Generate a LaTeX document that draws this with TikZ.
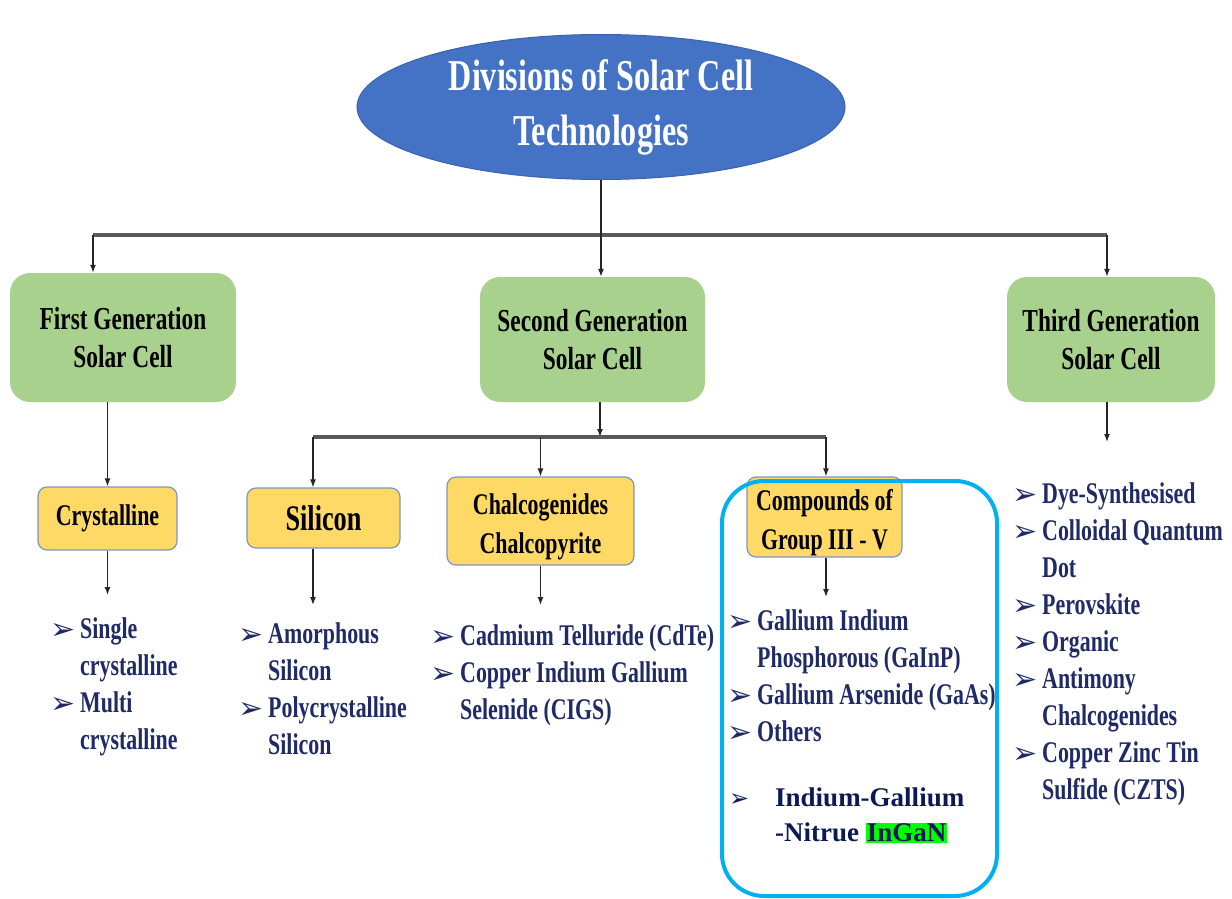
\documentclass[tikz,border=0pt]{standalone}
\usepackage{fontspec}
\setmainfont{Liberation Serif}
\newfontfamily\condfont[FakeStretch=0.73]{Liberation Serif}
\newfontfamily\dingfont{DejaVu Sans}
\usepackage{xcolor}
\usepackage{tikz}
\usetikzlibrary{shapes.geometric, arrows.meta}

\definecolor{titleblue}{HTML}{4472C4}
\definecolor{titleedge}{HTML}{3A62AE}
\definecolor{genfill}{HTML}{A9D18E}
\definecolor{subfill}{HTML}{FFD966}
\definecolor{subedge}{HTML}{7F96C0}
\definecolor{listblue}{HTML}{1F2A66}
\definecolor{ingannavy}{HTML}{0B1A57}
\definecolor{frameblue}{HTML}{00B0F0}
\definecolor{hlgreen}{HTML}{00FF00}

\newcommand{\bul}{\makebox[30pt][l]{\dingfont\fontsize{30}{30}\selectfont\raisebox{-1pt}{➢}}}
\newcommand{\cont}{\makebox[30pt]{}}
\newcommand{\low}[1]{\raisebox{-6pt}[\height][\depth]{#1}}

\begin{document}
\begin{tikzpicture}[
    x=1pt, y=-1pt,
    title/.style={ellipse, draw=titleedge, line width=1pt, fill=titleblue, text=white, minimum width=488pt, minimum height=145pt, align=center, inner sep=0pt, font=\condfont\bfseries\fontsize{44}{55}\selectfont},
    gen/.style={rectangle, fill=genfill, rounded corners=20pt, minimum height=125pt, align=center, inner sep=0pt, font=\condfont\bfseries\fontsize{32}{38}\selectfont},
    sub/.style={rectangle, draw=subedge, line width=1.2pt, fill=subfill, rounded corners=9pt, align=center, inner sep=0pt, font=\condfont\bfseries\fontsize{30}{39}\selectfont},
    items/.style={anchor=north west, align=left, inner sep=0pt, text=listblue, font=\condfont\bfseries\fontsize{30}{37}\selectfont},
    arrow/.style={-{Latex[length=8pt,width=6pt]}, line width=1.3pt, draw=black!85},
    bus/.style={line width=3.5pt, draw=black!65},
    frame/.style={rectangle, draw=frameblue, line width=4pt, rounded corners=42pt, inner sep=0pt}
]

\fill[white] (0,0) rectangle (1232,899);
\useasboundingbox (0,0) rectangle (1232,899);

% Top - title ellipse
\node[title] (root) at (601,107) {Divisions of Solar Cell\\Technologies};

% Generations
\node[gen, minimum width=226pt, minimum height=129pt] (first) at (123,337.5) {First Generation\\Solar Cell};
\node[gen, minimum width=225pt] (second) at (592.5,339.5) {Second Generation\\Solar Cell};
\node[gen, minimum width=208pt] (third) at (1111,339.5) {Third Generation\\Solar Cell};

% Sub groups
\node[sub, minimum width=139pt, minimum height=63pt] (crys) at (107.5,518.5) {Crystalline};
\node[sub, minimum width=153pt, minimum height=60pt, font=\condfont\bfseries\fontsize{36}{40}\selectfont] (silicon) at (323.5,518) {Silicon};
\node[sub, minimum width=187pt, minimum height=88pt] (chalco) at (540.5,521) {\low{Chalcogenides}\\\low{Chalcopyrite}};
\node[sub, minimum width=155pt, minimum height=80pt] (compound) at (824.5,517) {\low{Compounds of}\\\low{Group III - V}};

% Lists
\node[items] (crysList) at (50,612) {\strut\bul Single\\\cont crystalline\\\bul Multi\\\cont crystalline};
\node[items] (siliconList) at (238,617) {\strut\bul Amorphous\\\cont Silicon\\\bul Polycrystalline\\\cont Silicon};
\node[items] (chalcoList) at (430,619) {\strut\bul Cadmium Telluride (CdTe)\\\bul Copper Indium Gallium\\\cont Selenide (CIGS)};
\node[items] (compoundList) at (727,604) {\strut\bul Gallium Indium\\\cont Phosphorous (GaInP)\\\bul Gallium Arsenide (GaAs)\\\bul Others};
\node[items] (thirdList) at (1012,477) {\strut\bul Dye-Synthesised\\\bul Colloidal Quantum\\\cont Dot\\\bul Perovskite\\\bul Organic\\\bul Antimony\\\cont Chalcogenides\\\bul Copper Zinc Tin\\\cont Sulfide (CZTS)};
\node[items, text=ingannavy, font=\bfseries\fontsize{27}{35}\selectfont] (ingan) at (729,782) {\strut\makebox[46pt][l]{\dingfont\fontsize{24}{24}\selectfont ➢}Indium-Gallium\\\makebox[46pt]{}-Nitrue {\fboxsep=1pt\colorbox{hlgreen}{InGaN}}};

% Highlight frame
\node[frame, minimum width=275pt, minimum height=415pt] (hilite) at (859.5,688.5) {};

% Arrows - first level
\coordinate (busL) at (93,235);
\coordinate (busR) at (1107,235);
\draw[bus] (busL) -- (busR);
\draw[arrow] (root.south) -- (root.south |- second.north);
\draw[arrow] (busL) -- (busL |- first.north);
\draw[arrow] (busR) -- (busR |- third.north);

% Arrows - second level
\coordinate (bus2L) at (313,437);
\coordinate (bus2M) at (600,437);
\coordinate (bus2R) at (826,437);
\coordinate (thirdEnd) at (1107,442);
\draw[arrow] (first.south -| crys.north) -- (crys.north);
\draw[arrow] (second.south -| bus2M) -- (bus2M);
\draw[bus] (bus2L) -- (bus2R);
\draw[arrow] (bus2L) -- (bus2L |- silicon.north);
\draw[arrow] (bus2L -| chalco.north) -- (chalco.north);
\draw[arrow] (bus2R) -- (bus2R |- compound.north);
\draw[arrow] (third.south -| thirdEnd) -- (thirdEnd);

% Arrows - to lists
\draw[arrow, shorten >=17pt] (crys.south) -- (crys.south |- crysList.north);
\draw[arrow, shorten >=12pt] (silicon.south -| bus2L) -- (bus2L |- siliconList.north);
\draw[arrow, shorten >=14pt] (chalco.south) -- (chalco.south |- chalcoList.north);
\draw[arrow, shorten >=7pt] (compound.south -| bus2R) -- (bus2R |- compoundList.north);

\end{tikzpicture}
\end{document}
